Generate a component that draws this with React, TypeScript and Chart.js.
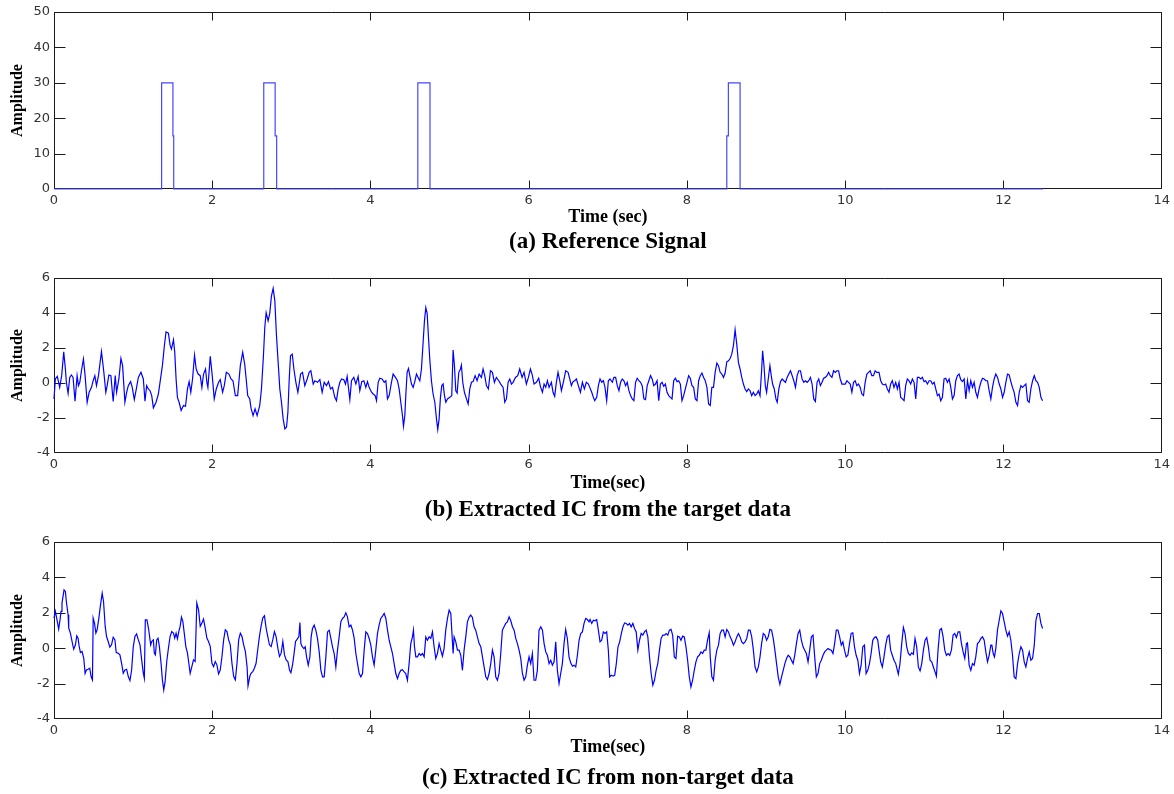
import React, { useEffect, useRef } from "react";
import { Chart, registerables } from "chart.js";

Chart.register(...registerables);

type Pair = [number, number];

// ---------- tick labels ----------
const TIME_TICKS = [0, 2, 4, 6, 8, 10, 12, 14];
const REF_AMP_TICKS = [0, 10, 20, 30, 40, 50];
const IC_AMP_TICKS = [-4, -2, 0, 2, 4, 6];

// ---------- (a) reference signal (time in s, amplitude) ----------
const REF_TIME = [0, 1.36, 1.36, 1.503, 1.503, 1.513, 1.513, 2.651, 2.651, 2.795, 2.795, 2.814, 2.814, 4.598, 4.598, 4.752, 4.752, 8.503, 8.503, 8.523, 8.523, 8.671, 8.671, 12.5];
const REF_AMP = [0, 0, 30, 30, 15, 15, 0, 0, 30, 30, 15, 15, 0, 0, 30, 30, 0, 0, 15, 15, 30, 30, 0, 0];

// ---------- (b) extracted IC from the target data [time, amplitude] ----------
const TARGET_IC: Pair[] = [
  [0,-0.91],[0.017,0.23],[0.042,0.38],[0.072,-0.25],[0.097,0.42],[0.123,1.78],[0.144,0.8],[0.156,0.04],[0.178,-0.59],[0.199,0.32],[0.22,0.46],[0.241,0.32],[0.266,-1.04],[0.292,0.42],[0.309,-0.15],[0.326,0.04],[0.347,0.7],[0.372,1.37],[0.393,0.42],[0.419,-1.1],[0.444,-0.53],[0.474,-0.25],[0.495,0.13],[0.516,0.42],[0.537,-0.15],[0.562,0.42],[0.6,1.8],[0.63,0.61],[0.655,-0.53],[0.672,-0.15],[0.693,0.46],[0.719,0.42],[0.748,-1.06],[0.774,0.42],[0.791,-0.53],[0.82,0.23],[0.846,1.4],[0.867,0.99],[0.896,-1.1],[0.918,-0.53],[0.939,-0.15],[0.968,0.08],[0.989,-0.25],[1.015,-0.95],[1.044,-0.25],[1.066,0.32],[1.099,0.61],[1.129,0.23],[1.15,-1.04],[1.171,-0.15],[1.192,-0.34],[1.214,-0.44],[1.235,-0.72],[1.256,-1.42],[1.29,-1.1],[1.319,-0.63],[1.34,0.04],[1.37,0.99],[1.395,2.13],[1.416,2.92],[1.446,2.85],[1.467,2.16],[1.484,1.94],[1.51,2.47],[1.526,1.75],[1.543,0.23],[1.56,-0.82],[1.581,-1.1],[1.607,-1.57],[1.636,-1.29],[1.662,-1.33],[1.687,-0.34],[1.708,0.08],[1.729,-0.53],[1.751,0.23],[1.776,1.59],[1.797,0.8],[1.822,0.51],[1.848,0.42],[1.869,-0.25],[1.89,0.51],[1.915,0.8],[1.932,0.04],[1.945,-0.25],[1.975,1.52],[2,0.42],[2.025,-0.91],[2.051,-0.34],[2.08,0.04],[2.101,0.19],[2.131,-0.53],[2.152,-0.15],[2.178,0.61],[2.211,0.51],[2.237,0.23],[2.262,0.13],[2.292,-0.72],[2.321,-0.72],[2.355,0.99],[2.385,1.75],[2.41,1.08],[2.431,0.13],[2.448,-0.72],[2.474,-0.91],[2.49,-1.44],[2.516,-1.86],[2.541,-1.48],[2.567,-1.86],[2.6,-1.29],[2.622,-0.34],[2.647,1.56],[2.664,3.17],[2.681,4.02],[2.706,3.55],[2.727,3.98],[2.748,4.97],[2.77,5.41],[2.791,4.69],[2.812,2.69],[2.833,1.18],[2.854,-0.34],[2.875,-1.1],[2.896,-2.05],[2.918,-2.62],[2.939,-2.52],[2.956,-1.67],[2.973,0.23],[2.989,1.56],[3.011,1.65],[3.032,0.8],[3.057,0.04],[3.082,-0.53],[3.108,0.23],
  [3.116,0.51],[3.141,0.61],[3.17,-0.15],[3.2,0.23],[3.225,0.61],[3.246,0.7],[3.276,-0.06],[3.297,0.13],[3.33,0.04],[3.36,0.19],[3.389,-0.53],[3.415,0.04],[3.444,-0.15],[3.469,0.08],[3.495,-0.34],[3.52,-0.25],[3.549,-0.82],[3.57,-1.01],[3.592,-0.34],[3.613,0.04],[3.634,0.23],[3.663,0.19],[3.684,-0.06],[3.705,0.38],[3.739,-0.95],[3.76,0.13],[3.789,0.32],[3.815,-0.06],[3.844,0.38],[3.865,-0.44],[3.89,0.08],[3.916,0.13],[3.941,-0.25],[3.962,0.08],[3.983,-0.25],[4.013,-0.53],[4.034,-0.63],[4.059,-0.72],[4.076,-1.01],[4.097,0.04],[4.118,0.27],[4.147,0.23],[4.173,0.04],[4.194,0.13],[4.215,-0.91],[4.236,-0.72],[4.265,0.04],[4.286,0.51],[4.316,0.32],[4.341,0.13],[4.362,-0.34],[4.383,-1.1],[4.404,-1.86],[4.417,-2.47],[4.434,-1.86],[4.446,-0.72],[4.463,0.61],[4.48,0.83],[4.497,0.42],[4.518,-0.06],[4.539,-0.25],[4.56,0.08],[4.581,0.51],[4.602,0.32],[4.623,0.13],[4.644,0.8],[4.665,2.31],[4.682,3.55],[4.699,4.31],[4.716,3.98],[4.733,2.6],[4.749,1.37],[4.77,0.13],[4.791,-0.63],[4.813,-1.1],[4.834,-2.05],[4.85,-2.66],[4.867,-2.05],[4.884,-0.82],[4.901,-0.15],[4.918,-0.06],[4.935,-0.72],[4.952,-1.1],[4.973,-0.91],[5.002,-0.82],[5.027,-0.72],[5.044,1.88],[5.061,0.99],[5.078,-0.44],[5.095,-0.57],[5.116,0.61],[5.137,0.8],[5.149,1.02],[5.166,0.04],[5.187,-0.53],[5.213,-0.91],[5.234,-1.2],[5.255,-0.34],[5.276,0.04],[5.297,0.08],[5.322,0.42],[5.347,0.13],[5.373,0.51],[5.402,0.32],[5.423,0.8],[5.444,0.42],[5.465,-0.15],[5.49,-0.34],[5.516,0.7],[5.541,0.61],[5.566,0.04],[5.591,0.32],[5.621,0.13],[5.646,-0.06],[5.676,-0.25],[5.697,-1.1],[5.718,-0.91],[5.739,0.04],[5.76,0.23],[5.781,-0.06],[5.802,0.04],[5.832,0.32],[5.861,0.42],[5.886,0.8],[5.916,0.32],[5.941,0.61],[5.97,-0.06],[5.996,0.32],[6.021,0.8],[6.042,0.51],[6.067,-0.06],[6.097,0.04],[6.126,0.27],[6.147,-0.19],[6.173,-0.53],[6.194,-0.06],[6.215,-0.25],[6.236,0.13],[6.257,-0.25],[6.286,0.04],[6.307,-0.53],[6.328,-0.76],[6.349,0.04],[6.37,0.61],[6.392,0.13],[6.413,-0.44],[6.442,0.13],[6.467,0.7],[6.497,0.61],[6.518,0.23],[6.539,-0.15],[6.56,0.08],[6.581,0.13],[6.602,0.23],[6.627,-0.15],[6.653,-0.53],[6.678,0.04],[6.703,-0.34],[6.728,0.04],[6.754,-0.06],
  [6.771,-0.25],[6.796,-0.53],[6.817,-0.82],[6.834,-1.01],[6.859,-0.82],[6.88,-0.15],[6.901,0.23],[6.922,0.04],[6.943,0.13],[6.964,-0.25],[6.985,-1.01],[7.006,0.13],[7.027,0.23],[7.056,0.04],[7.077,0.32],[7.098,0.32],[7.119,-0.15],[7.14,-0.44],[7.161,0.04],[7.182,0.23],[7.203,0.13],[7.224,-0.15],[7.245,0.04],[7.266,-0.44],[7.287,-0.72],[7.308,-0.91],[7.329,-1.01],[7.35,0.04],[7.371,0.27],[7.392,0.13],[7.413,0.04],[7.434,-0.15],[7.455,-0.91],[7.476,-0.95],[7.497,-0.15],[7.518,0.13],[7.539,0.42],[7.56,0.23],[7.58,-0.15],[7.601,-0.06],[7.622,0.13],[7.643,-1.01],[7.664,-0.06],[7.685,0.04],[7.706,-0.19],[7.727,-0.06],[7.748,-0.53],[7.769,-0.72],[7.79,-0.82],[7.811,-0.91],[7.832,0.13],[7.853,0.27],[7.874,0.08],[7.895,0.13],[7.916,-0.06],[7.937,-1.01],[7.958,-0.72],[7.979,-0.34],[8,0.04],[8.021,0.42],[8.042,0.27],[8.063,-0.15],[8.084,-0.25],[8.105,-0.91],[8.126,-1.01],[8.147,0.13],[8.168,0.42],[8.189,0.57],[8.21,0.32],[8.231,0.13],[8.252,-0.25],[8.273,-1.2],[8.294,-1.29],[8.314,-0.25],[8.335,-0.25],[8.356,0.61],[8.377,1.14],[8.398,0.99],[8.419,0.61],[8.44,0.51],[8.461,0.32],[8.482,0.57],[8.503,1.21],[8.524,1.27],[8.545,1.4],[8.566,1.65],[8.587,2.13],[8.608,3.04],[8.629,2.22],[8.65,1.18],[8.671,0.8],[8.692,0.32],[8.713,-0.06],[8.734,-0.34],[8.755,-0.49],[8.776,-0.34],[8.797,-0.44],[8.818,-0.72],[8.839,-0.53],[8.86,-0.72],[8.881,-0.63],[8.902,-0.44],[8.923,-0.72],[8.943,0.7],[8.956,1.84],[8.973,0.99],[8.99,-0.15],[9.006,-0.53],[9.027,0.23],[9.048,0.99],[9.065,0.42],[9.082,-0.06],[9.103,-0.34],[9.124,-0.91],[9.14,-1.1],[9.161,-0.34],[9.182,0.08],[9.203,0.23],[9.224,0.13],[9.245,0.04],[9.266,0.32],[9.287,0.51],[9.308,0.7],[9.329,0.42],[9.35,0.13],[9.371,-0.25],[9.392,0.42],[9.413,0.7],[9.434,0.7],[9.455,0.23],[9.476,0.04],[9.497,0.13],[9.518,0.04],[9.539,0.13],[9.56,0.32],[9.581,-0.06],[9.602,-0.91],[9.623,-1.06],[9.644,0.04],[9.665,0.23],[9.686,-0.15],[9.707,0.04],[9.727,0.27],[9.748,0.32],[9.769,0.42],[9.79,0.61],[9.811,0.42],[9.832,0.32],[9.853,0.7],[9.874,0.61],[9.895,0.7],[9.916,0.7],[9.937,0.23],[9.958,-0.06],[9.979,-0.06],[10,-0.06],[10.021,0.13],[10.042,0.04],[10.063,-0.06],[10.084,-0.53],[10.105,0.04],[10.126,0.13],[10.147,-0.15],[10.168,-0.06],[10.189,-0.25],[10.21,-0.63],[10.231,-0.72],[10.252,0.04],[10.273,0.51],[10.294,0.61],[10.315,0.7],[10.336,0.42],[10.357,0.42],[10.378,0.7],[10.399,0.61],
  [10.427,0.61],[10.448,0.13],[10.469,-0.06],[10.49,-0.11],[10.511,-0.06],[10.532,-0.34],[10.553,-0.53],[10.574,-0.06],[10.595,0.13],[10.616,-0.25],[10.638,0.04],[10.659,-0.34],[10.68,0.04],[10.701,-0.82],[10.722,-0.91],[10.743,-1.01],[10.764,-0.15],[10.785,0.23],[10.806,0.13],[10.827,-0.06],[10.849,0.23],[10.87,0.04],[10.891,-0.91],[10.912,0.32],[10.933,0.32],[10.954,0.23],[10.975,0.32],[10.996,0.08],[11.017,0.13],[11.038,-0.06],[11.06,0.13],[11.081,0.13],[11.102,-0.06],[11.123,0.04],[11.144,-0.34],[11.165,-0.72],[11.186,-0.63],[11.207,-1.01],[11.228,-0.82],[11.249,0.23],[11.27,0.27],[11.292,0.04],[11.313,0.23],[11.334,-0.25],[11.355,-0.91],[11.376,-0.72],[11.397,0.13],[11.418,0.42],[11.439,0.51],[11.46,0.19],[11.481,0.08],[11.503,0.23],[11.524,-0.91],[11.545,0.13],[11.566,-0.44],[11.587,0.13],[11.608,-0.25],[11.629,0.04],[11.65,-0.53],[11.671,-0.82],[11.692,-0.34],[11.714,0.04],[11.735,0.27],[11.756,0.23],[11.777,0.13],[11.798,0.13],[11.819,-0.44],[11.84,-0.91],[11.861,-0.25],[11.882,0.23],[11.903,0.51],[11.925,0.32],[11.946,-0.06],[11.967,-0.34],[11.988,-0.82],[12.009,-0.53],[12.03,0.04],[12.051,0.51],[12.072,0.46],[12.093,0.08],[12.114,-0.25],[12.135,-0.53],[12.157,-1.1],[12.178,-1.29],[12.199,-0.53],[12.22,-0.15],[12.241,-0.25],[12.262,-0.15],[12.283,-0.06],[12.304,-1.01],[12.325,-1.1],[12.346,-0.34],[12.368,0.13],[12.389,0.42],[12.41,0.13],[12.431,0.04],[12.452,-0.25],[12.473,-0.82],[12.494,-1.01],
];

// ---------- (c) extracted IC from non-target data [time, amplitude] ----------
const NONTARGET_IC: Pair[] = [
  [0,1.7],[0.017,2.08],[0.038,1.6],[0.059,1.08],[0.076,1.6],[0.089,2.08],[0.101,2.55],[0.127,3.3],[0.144,3.21],[0.156,2.64],[0.178,1.89],[0.186,1.13],[0.207,0.85],[0.228,0.38],[0.249,-0.06],[0.271,0.19],[0.288,0.7],[0.304,0.57],[0.317,0.13],[0.334,-0.25],[0.355,-0.19],[0.376,-0.57],[0.393,-1.42],[0.41,-1.23],[0.431,-1.19],[0.452,-1.13],[0.469,-1.6],[0.486,-1.79],[0.495,1.7],[0.512,1.42],[0.529,0.85],[0.545,1.04],[0.567,1.7],[0.588,2.45],[0.609,3.11],[0.626,2.64],[0.647,1.23],[0.664,0.66],[0.685,0.38],[0.706,0.06],[0.727,0.19],[0.748,0.62],[0.77,0.47],[0.786,-0.25],[0.808,-0.28],[0.833,-0.38],[0.858,-0.94],[0.875,-1.42],[0.896,-1.23],[0.918,-1.19],[0.939,-1.6],[0.96,-1.83],[0.981,-1.23],[1.002,0.09],[1.023,0.66],[1.044,0.81],[1.066,0.47],[1.087,0.19],[1.108,-0.66],[1.129,-1.42],[1.142,-1.7],[1.154,1.6],[1.175,1.6],[1.197,1.04],[1.222,0.19],[1.235,0.38],[1.256,0.47],[1.268,-0.28],[1.281,-0.38],[1.298,0.47],[1.315,0.57],[1.332,0.09],[1.353,-0.85],[1.37,-1.79],[1.387,-2.36],[1.404,-1.89],[1.425,-0.75],[1.446,0],[1.467,0.66],[1.488,0.94],[1.51,0.85],[1.526,0.57],[1.543,0.85],[1.56,0.53],[1.577,0.94],[1.594,1.23],[1.611,1.75],[1.628,1.51],[1.649,0.75],[1.666,0.09],[1.687,-0.28],[1.704,-0.85],[1.721,-1.42],[1.742,-1.04],[1.763,-0.66],[1.784,-0.75],[1.805,2.55],[1.827,2.17],[1.848,1.23],[1.869,1.42],[1.89,1.64],[1.911,1.13],[1.932,0.57],[1.953,0.38],[1.975,0.09],[1.996,-0.85],[2.017,-1.04],[2.038,-0.75],[2.059,-0.94],[2.08,-1.45],[2.101,-1.23],[2.123,-0.47],[2.144,0.47],[2.165,1.04],[2.186,0.94],[2.207,0.47],[2.228,0.19],[2.249,-0.85],[2.271,-1.6],[2.292,-1.79],[2.313,-0.85],[2.334,0.47],[2.355,0.85],[2.376,0.66],[2.397,0.19],[2.419,-0.19],[2.44,-1.04],[2.452,-2.13],[2.474,-1.6],[2.49,-1.42],[2.512,-1.32],[2.533,-1.13],[2.554,-0.85],[2.575,-0.09],[2.596,0.66],[2.617,1.23],[2.638,1.7],[2.66,1.83],[2.681,1.13],[2.702,0.66],[2.723,0.19],[2.744,0.09],[2.765,0.47],[2.786,0.94],[2.807,0.66],[2.829,0],[2.85,-0.47],[2.871,-0.28],[2.892,0.38],[2.913,-0.38],[2.934,-0.66],[2.956,-0.75],[2.977,-1.23],[2.994,-1.38],[3.015,-0.94],[3.032,-0.38],[3.053,0.38],[3.074,0.51],[3.095,0.66],[3.108,1.45],
  [3.12,0.26],[3.137,0.08],[3.158,-0.02],[3.175,0.08],[3.192,-0.49],[3.213,-0.96],[3.234,-0.49],[3.25,0.64],[3.267,1.11],[3.288,1.3],[3.309,1.02],[3.33,0.55],[3.352,-0.21],[3.373,-1.25],[3.394,-1.62],[3.415,-1.62],[3.436,-0.49],[3.457,0.92],[3.478,1.02],[3.499,0.55],[3.52,0.08],[3.541,-0.3],[3.562,-1.06],[3.583,-0.11],[3.604,0.64],[3.625,1.49],[3.646,1.68],[3.667,1.77],[3.688,2],[3.709,1.77],[3.73,1.21],[3.752,1.3],[3.773,1.02],[3.794,0.55],[3.815,-0.3],[3.836,-0.87],[3.857,-1.43],[3.878,-1.62],[3.899,-1.43],[3.92,-0.11],[3.941,0.92],[3.962,0.83],[3.983,0.55],[4.004,0.17],[4.025,-0.49],[4.046,-0.96],[4.067,-0.11],[4.088,0.83],[4.109,1.3],[4.13,1.68],[4.152,1.81],[4.173,1.96],[4.194,1.68],[4.215,1.02],[4.236,0.45],[4.257,0.08],[4.278,-0.3],[4.299,-0.87],[4.32,-1.43],[4.341,-1.72],[4.362,-1.43],[4.383,-1.25],[4.404,-1.21],[4.425,-1.34],[4.446,-1.43],[4.467,-1.81],[4.488,-0.87],[4.509,0.26],[4.53,0.64],[4.543,1.02],[4.556,0.08],[4.573,-0.49],[4.594,-0.49],[4.615,-0.3],[4.636,-0.4],[4.657,-0.3],[4.678,-0.49],[4.699,0.64],[4.72,0.45],[4.741,0.64],[4.762,0.55],[4.783,0.92],[4.804,0.08],[4.825,-0.58],[4.846,-0.3],[4.867,0.26],[4.888,-0.11],[4.909,-0.45],[4.93,-0.02],[4.951,1.02],[4.973,1.68],[4.994,2.15],[5.015,1.96],[5.027,1.02],[5.044,-0.3],[5.057,0.64],[5.078,0.36],[5.099,-0.11],[5.12,-0.11],[5.141,-0.4],[5.162,-1.25],[5.183,-0.11],[5.204,0.64],[5.225,1.49],[5.246,1.74],[5.267,1.87],[5.288,1.74],[5.309,1.21],[5.33,1.02],[5.351,0.64],[5.373,0.26],[5.394,0.08],[5.415,-0.49],[5.436,-1.06],[5.457,-1.62],[5.478,-1.77],[5.499,-1.43],[5.52,-0.87],[5.541,-0.11],[5.562,-0.49],[5.583,-1.62],[5.604,-1.81],[5.625,-1.43],[5.646,-0.3],[5.667,1.02],[5.688,1.21],[5.709,1.4],[5.73,1.49],[5.752,1.77],[5.773,1.55],[5.794,1.21],[5.815,1.02],[5.836,0.55],[5.857,0.26],[5.878,-0.11],[5.899,-0.58],[5.92,-1.43],[5.941,-1.81],[5.962,-1.62],[5.983,-0.96],[6.004,-0.49],[6.025,-0.87],[6.046,-0.3],[6.067,-1.81],[6.088,-1.81],[6.109,-1.25],[6.13,1.02],[6.152,1.21],[6.173,1.02],[6.194,0.26],[6.215,-0.21],[6.236,-0.4],[6.257,-0.87],[6.278,-0.68],[6.299,-0.96],[6.32,-0.77],[6.341,0.36],[6.362,-1.25],[6.383,-2],[6.404,-1.43],[6.425,-0.87],[6.446,0.26],[6.467,1.06],[6.488,0.55],[6.509,-0.49],[6.53,-0.83],[6.552,-1.02],[6.573,-0.96],[6.594,-1.06],[6.615,-0.4],[6.636,0.45],[6.657,0.83],[6.678,0.92],[6.699,1.4],[6.72,1.68],[6.741,1.62],[6.762,1.49],
  [6.775,1.62],[6.796,1.4],[6.817,1.58],[6.838,1.55],[6.859,1.62],[6.88,1.02],[6.901,0.36],[6.922,0.45],[6.943,0.92],[6.964,0.83],[6.985,0.92],[7.006,-0.11],[7.023,-1.62],[7.044,-1.53],[7.065,-1.58],[7.086,-1.53],[7.107,-0.87],[7.128,0.08],[7.149,0.36],[7.17,0.83],[7.191,1.21],[7.212,1.43],[7.232,1.4],[7.253,1.3],[7.274,1.4],[7.295,1.21],[7.316,1.4],[7.337,1.11],[7.358,0.92],[7.379,-0.11],[7.4,0.45],[7.421,0.83],[7.442,0.74],[7.463,0.92],[7.484,1.02],[7.505,0.64],[7.526,-0.49],[7.547,-1.43],[7.568,-2.09],[7.589,-1.81],[7.61,-1.25],[7.631,-0.87],[7.652,-0.11],[7.673,0.55],[7.694,0.74],[7.715,0.74],[7.736,0.83],[7.757,0.74],[7.778,1.02],[7.798,1.06],[7.819,0.74],[7.84,-0.49],[7.861,-0.58],[7.882,0.68],[7.903,0.64],[7.924,0.45],[7.945,0.68],[7.966,0.64],[7.987,0.08],[8.008,-0.68],[8.029,-1.62],[8.05,-2.19],[8.071,-1.81],[8.092,-1.25],[8.113,-0.77],[8.134,-0.49],[8.155,-0.4],[8.176,-0.21],[8.197,-0.3],[8.218,-0.11],[8.239,-0.11],[8.26,0.45],[8.281,0.87],[8.294,-0.49],[8.314,-1.62],[8.335,-1.81],[8.356,-0.68],[8.377,-0.11],[8.398,0.17],[8.419,0.83],[8.44,1.02],[8.461,1.02],[8.482,0.64],[8.503,1.06],[8.524,0.92],[8.545,0.64],[8.566,0.45],[8.587,0.17],[8.608,0.36],[8.629,0.64],[8.65,0.83],[8.671,0.64],[8.692,0.36],[8.713,0.26],[8.734,0.36],[8.755,0.55],[8.776,1.02],[8.797,1.02],[8.818,0.64],[8.839,-0.11],[8.86,-1.06],[8.881,-1.34],[8.902,-1.06],[8.923,-0.49],[8.943,0.26],[8.964,0.83],[8.985,0.74],[9.006,0.45],[9.027,0.64],[9.048,1.06],[9.069,1.02],[9.09,0.55],[9.111,-0.11],[9.132,-0.87],[9.153,-1.62],[9.174,-2.04],[9.195,-1.62],[9.216,-1.25],[9.237,-0.87],[9.258,-0.58],[9.279,-0.4],[9.3,-0.49],[9.32,-0.68],[9.341,-0.87],[9.362,-0.4],[9.383,0.26],[9.404,0.83],[9.425,1.02],[9.446,0.45],[9.467,0.08],[9.488,-0.11],[9.509,-0.3],[9.53,-0.77],[9.551,-0.11],[9.572,0.64],[9.593,0.74],[9.614,-0.49],[9.635,-1.62],[9.656,-1.43],[9.677,-0.87],[9.698,-0.68],[9.719,-0.4],[9.74,-0.21],[9.761,-0.11],[9.782,-0.02],[9.803,-0.08],[9.824,-0.11],[9.845,-0.3],[9.866,0.26],[9.887,1.02],[9.908,1.02],[9.929,0.64],[9.95,0.17],[9.97,0.36],[9.991,-0.11],[10.012,-0.49],[10.033,-0.4],[10.054,0.26],[10.075,0.83],[10.096,0.87],[10.117,0.08],[10.138,-0.4],[10.159,-0.68],[10.18,-1.43],[10.201,-0.96],[10.222,0.08],[10.243,0.17],[10.264,-1.43],[10.285,-1.25],[10.306,-0.87],[10.327,-0.3],[10.348,0.45],[10.369,0.6],[10.39,0.64],[10.411,0.45],
  [10.427,-0.11],[10.448,-0.77],[10.469,-1.06],[10.49,-0.49],[10.511,0.17],[10.532,0.64],[10.553,0.74],[10.574,-0.11],[10.595,-0.4],[10.616,-0.68],[10.638,-0.87],[10.659,-1.25],[10.671,-1.47],[10.692,-0.87],[10.714,0.26],[10.735,1.17],[10.756,0.83],[10.777,0.08],[10.798,-0.3],[10.819,-0.4],[10.84,-0.26],[10.861,-0.34],[10.882,0.55],[10.903,0.08],[10.924,-1.06],[10.946,-1.28],[10.967,-0.87],[10.988,-0.11],[11.009,0.45],[11.03,0.6],[11.051,0.08],[11.072,-0.68],[11.093,-0.77],[11.114,-1.06],[11.135,-1.34],[11.152,-1.58],[11.173,-0.11],[11.195,1.02],[11.216,1.11],[11.237,0.64],[11.258,-0.11],[11.279,-0.4],[11.3,-0.3],[11.321,-0.4],[11.342,-0.11],[11.363,0.74],[11.384,0.83],[11.405,0.6],[11.427,0.92],[11.448,0.92],[11.469,0.26],[11.49,-0.21],[11.511,-0.58],[11.532,0.26],[11.545,0.3],[11.566,-0.96],[11.587,-1.25],[11.608,-0.87],[11.629,-0.96],[11.65,-0.49],[11.671,0.26],[11.692,0.36],[11.714,0.55],[11.735,0.64],[11.756,0.45],[11.777,-0.21],[11.798,-0.77],[11.819,-0.4],[11.84,0.17],[11.853,0.17],[11.87,-0.3],[11.886,-0.49],[11.903,-0.02],[11.924,1.02],[11.946,1.58],[11.967,2.11],[11.988,1.96],[12.009,1.49],[12.03,1.02],[12.051,0.68],[12.072,0.92],[12.093,0.45],[12.114,-0.4],[12.135,-1.62],[12.157,-1.72],[12.178,-0.87],[12.199,-0.3],[12.22,0.08],[12.241,-0.11],[12.262,-0.77],[12.283,-1.06],[12.304,-0.58],[12.325,-0.21],[12.346,-0.68],[12.368,-0.58],[12.389,0.17],[12.41,1.58],[12.431,1.96],[12.452,1.96],[12.473,1.4],[12.494,1.11],
];

const SERIF = '"Liberation Serif", "Times New Roman", serif';
const SANS = '"DejaVu Sans", sans-serif';

// MATLAB-style box with inward tick marks on all four sides
const matlabAxes = {
  id: "matlabAxes",
  beforeDatasetsDraw(chart: any, _args: any, opts: any) {
    const ctx = chart.ctx;
    const { left, right, top, bottom } = chart.chartArea;
    const xs = chart.scales.x;
    const ys = chart.scales.y;
    const L = Math.round(left) + 0.5;
    const R = Math.round(right) - 0.5;
    const T = Math.round(top) + 0.5;
    const B = Math.round(bottom) - 0.5;
    ctx.save();
    ctx.strokeStyle = opts.color;
    ctx.lineWidth = 1;
    ctx.beginPath();
    ctx.rect(L, T, R - L, B - T);
    for (const v of opts.xTicks) {
      const px = Math.min(Math.max(Math.round(xs.getPixelForValue(v)) + 0.5, L), R);
      ctx.moveTo(px, B);
      ctx.lineTo(px, B - 8);
      ctx.moveTo(px, T);
      ctx.lineTo(px, T + 8);
    }
    for (const v of opts.yTicks) {
      const py = Math.min(Math.max(Math.round(ys.getPixelForValue(v)) + 0.5, T), B);
      ctx.moveTo(L, py);
      ctx.lineTo(L + 11, py);
      ctx.moveTo(R, py);
      ctx.lineTo(R - 11, py);
    }
    ctx.stroke();
    ctx.restore();
  },
};

interface PanelSpec {
  top: number;
  height: number;
  areaTop: number;
  areaBottom: number;
  xTitleCenter: number;
  titleCenter: number;
  points: Pair[];
  yMin: number;
  yMax: number;
  yTicks: number[];
  xLabel: string;
  title: string;
  color: string;
}

const X_TITLE_SIZE = 18;
const TITLE_SIZE = 23;

function buildConfig(s: PanelSpec): any {
  const xLine = X_TITLE_SIZE * 1.2;
  const tLine = TITLE_SIZE * 1.2;
  const xAxisHeight = s.xTitleCenter + xLine / 2 - s.areaBottom;
  const titlePadTop = s.titleCenter - tLine / 2 - (s.xTitleCenter + xLine / 2);
  const titlePadBottom = s.height - (s.titleCenter + tLine / 2);
  const tickFont = { family: SANS, size: 13 };
  return {
    type: "line",
    data: {
      datasets: [
        {
          data: s.points.map(([x, y]) => ({ x, y })),
          borderColor: s.color,
          borderWidth: 1.2,
          pointRadius: 0,
          pointHoverRadius: 0,
          tension: 0,
          fill: false,
          clip: 4,
        },
      ],
    },
    options: {
      responsive: false,
      animation: false,
      devicePixelRatio: 1,
      parsing: false,
      events: [],
      layout: { padding: { top: s.areaTop, left: 0, right: 11, bottom: 0 } },
      plugins: {
        legend: { display: false },
        tooltip: { enabled: false },
        title: {
          display: true,
          text: s.title,
          position: "bottom",
          fullSize: false,
          align: "center",
          color: "#000",
          font: { family: SERIF, size: TITLE_SIZE, weight: "bold", lineHeight: 1.2 },
          padding: { top: titlePadTop, bottom: titlePadBottom },
        },
        matlabAxes: { xTicks: TIME_TICKS, yTicks: s.yTicks, color: "#1a1a1a" },
      },
      scales: {
        x: {
          type: "linear",
          min: 0,
          max: 14,
          afterBuildTicks: (sc: any) => {
            sc.ticks = TIME_TICKS.map((v) => ({ value: v }));
          },
          afterFit: (sc: any) => {
            sc.height = xAxisHeight;
          },
          grid: { display: false, drawTicks: false },
          border: { display: false },
          ticks: { font: tickFont, color: "#333", padding: 4, maxRotation: 0, autoSkip: false },
          title: {
            display: true,
            text: s.xLabel,
            color: "#000",
            font: { family: SERIF, size: X_TITLE_SIZE, weight: "bold", lineHeight: 1.2 },
            padding: { top: 0, bottom: 0 },
          },
        },
        y: {
          type: "linear",
          min: s.yMin,
          max: s.yMax,
          afterBuildTicks: (sc: any) => {
            sc.ticks = s.yTicks.map((v) => ({ value: v }));
          },
          afterFit: (sc: any) => {
            sc.width = 54;
          },
          grid: { display: false, drawTicks: false },
          border: { display: false },
          ticks: { font: tickFont, color: "#333", padding: 4 },
          title: {
            display: true,
            text: "Amplitude",
            color: "#000",
            font: { family: SERIF, size: 16, weight: "bold", lineHeight: 1.2 },
            padding: { top: 8.5, bottom: 0 },
          },
        },
      },
    },
    plugins: [matlabAxes],
  };
}

const PANELS: PanelSpec[] = [
  {
    top: 0,
    height: 256,
    areaTop: 12,
    areaBottom: 189,
    xTitleCenter: 217,
    titleCenter: 242,
    points: REF_TIME.map((t, i) => [t, REF_AMP[i]] as Pair),
    yMin: 0,
    yMax: 50,
    yTicks: REF_AMP_TICKS,
    xLabel: "Time (sec)",
    title: "(a) Reference Signal",
    color: "#4646ff",
  },
  {
    top: 256,
    height: 268,
    areaTop: 22,
    areaBottom: 197,
    xTitleCenter: 227,
    titleCenter: 254,
    points: TARGET_IC,
    yMin: -4,
    yMax: 6,
    yTicks: IC_AMP_TICKS,
    xLabel: "Time(sec)",
    title: "(b) Extracted IC from the target data",
    color: "#0000ff",
  },
  {
    top: 524,
    height: 270,
    areaTop: 18,
    areaBottom: 195,
    xTitleCenter: 223,
    titleCenter: 254,
    points: NONTARGET_IC,
    yMin: -4,
    yMax: 6,
    yTicks: IC_AMP_TICKS,
    xLabel: "Time(sec)",
    title: "(c) Extracted IC from non-target data",
    color: "#0000ff",
  },
];

function Panel({ spec }: { spec: PanelSpec }) {
  const ref = useRef<HTMLCanvasElement | null>(null);
  useEffect(() => {
    if (!ref.current) return;
    const chart = new Chart(ref.current, buildConfig(spec));
    return () => chart.destroy();
  }, [spec]);
  return (
    <canvas
      ref={ref}
      width={1174}
      height={spec.height}
      style={{ position: "absolute", left: 0, top: spec.top, width: 1174, height: spec.height }}
    />
  );
}

export default function App() {
  return (
    <div
      style={{
        position: "absolute",
        left: 0,
        top: 0,
        width: 1174,
        height: 794,
        background: "#fff",
        overflow: "hidden",
      }}
    >
      {PANELS.map((p, i) => (
        <Panel key={i} spec={p} />
      ))}
    </div>
  );
}
